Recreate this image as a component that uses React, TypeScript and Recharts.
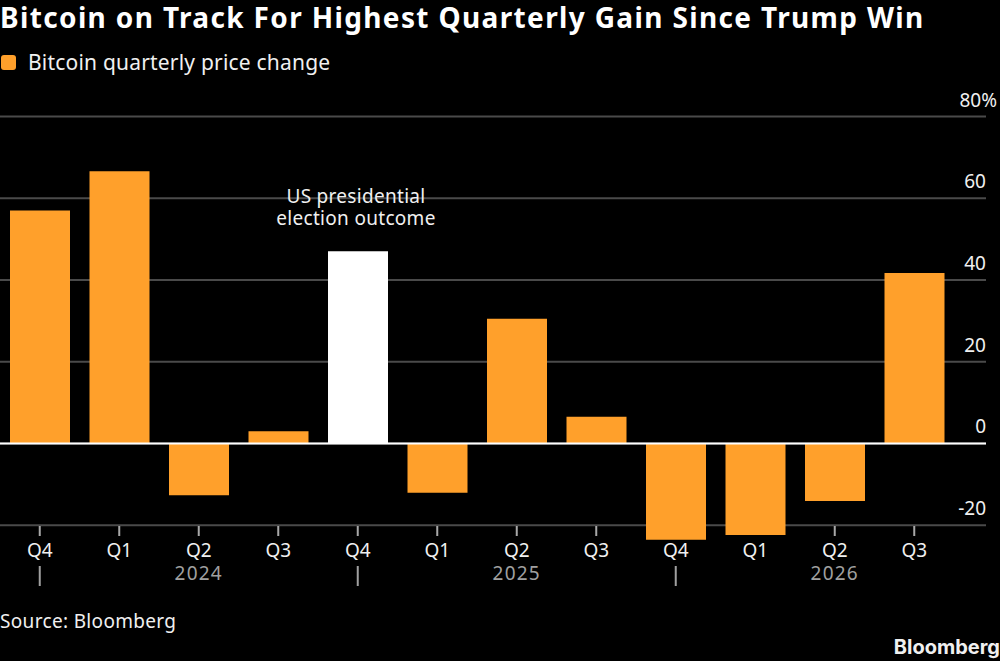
import { Bar, BarChart, CartesianGrid, Cell, LabelList, ReferenceLine, XAxis, YAxis } from "recharts";

const quarters = ["Q4", "Q1", "Q2", "Q3", "Q4", "Q1", "Q2", "Q3", "Q4", "Q1", "Q2", "Q3"];
const changes = [57, 66.6, -12.7, 3, 47, -12.1, 30.5, 6.5, -23.6, -22.4, -14.1, 41.7];
const yearLabels = ["", "", "2024", "", "", "", "2025", "", "", "", "2026", ""];
const yearDividers = [0, 4, 8];
const yTicks = [-20, 0, 20, 40, 60, 80];
const highlightIndex = 4;
const noteLines = ["US presidential", "election outcome"];

const rows = quarters.map((quarter, i) => ({ quarter, change: changes[i] }));

const FONT = "'Noto Sans', sans-serif";
const ORANGE = "#ffa02b";

function QuarterTick({ x, y, payload, index }: any) {
  const i = payload?.index ?? index;
  const axisY = y - 40;
  return (
    <g fontFamily={FONT}>
      {/* bars that reach past the axis hide their tick */}
      {changes[i] > -20 && (
        <line x1={x} x2={x} y1={axisY} y2={axisY + 10} stroke="#a8a8a8" strokeWidth={2} />
      )}
      <text x={x} y={axisY + 31} textAnchor="middle" fontSize={19} fill="#f0f0f0">
        {payload.value}
      </text>
      {yearLabels[i] && (
        <text x={x} y={axisY + 54} textAnchor="middle" fontSize={19} letterSpacing={1.2} fill="#a0a0a0">
          {yearLabels[i]}
        </text>
      )}
      {yearDividers.includes(i) && (
        <line x1={x} x2={x} y1={axisY + 40} y2={axisY + 60} stroke="#a0a0a0" strokeWidth={2} />
      )}
    </g>
  );
}

function ValueTick({ y, payload }: any) {
  const top = payload.value === 80;
  return (
    <text
      x={top ? 997 : 986}
      y={y - 10}
      textAnchor="end"
      fontFamily={FONT}
      fontSize={19}
      fill="#f0f0f0"
    >
      {top ? "80%" : payload.value}
    </text>
  );
}

function ElectionNote({ x, y, width, index }: any) {
  if (index !== highlightIndex) return null;
  const cx = x + width / 2 - 2;
  return (
    <text x={cx} textAnchor="middle" fontFamily={FONT} fontSize={19} letterSpacing={0.3} fill="#f0f0f0">
      {noteLines.map((line, i) => (
        <tspan key={line} x={cx} y={y - 48 + i * 22}>
          {line}
        </tspan>
      ))}
    </text>
  );
}

export default function App() {
  return (
    <div style={{ position: "absolute", left: 0, top: 0, width: 1000, height: 661, background: "#000", fontFamily: FONT, overflow: "hidden" }}>
      <div style={{ position: "absolute", left: 0, top: 1, fontSize: 28, lineHeight: "32px", fontWeight: 700, letterSpacing: 1.36, color: "#fff", whiteSpace: "nowrap" }}>
        Bitcoin on Track For Highest Quarterly Gain Since Trump Win
      </div>
      <div style={{ position: "absolute", left: 1, top: 55, width: 15, height: 15, borderRadius: 3, background: ORANGE }} />
      <div style={{ position: "absolute", left: 28, top: 48, fontSize: 21, letterSpacing: 0.2, color: "#f0f0f0", whiteSpace: "nowrap" }}>
        Bitcoin quarterly price change
      </div>
      <BarChart
        width={1000}
        height={661}
        data={rows}
        margin={{ top: 116.5, right: 13, bottom: 0, left: 0 }}
        barSize={60}
      >
        <CartesianGrid vertical={false} horizontalValues={yTicks} stroke="#4a4a4a" strokeWidth={2} />
        <XAxis
          dataKey="quarter"
          height={95}
          interval={0}
          axisLine={false}
          tickLine={false}
          tickSize={0}
          tickMargin={0}
          padding={{ left: 0, right: 32 }}
          tick={QuarterTick}
        />
        <YAxis
          orientation="right"
          width={1}
          domain={[-30, 80]}
          ticks={yTicks}
          axisLine={false}
          tickLine={false}
          tick={ValueTick}
        />
        <Bar dataKey="change" fill={ORANGE} isAnimationActive={false}>
          {rows.map((row, i) => (
            <Cell key={i} fill={i === highlightIndex ? "#ffffff" : ORANGE} />
          ))}
          <LabelList dataKey="change" content={ElectionNote} />
        </Bar>
        <ReferenceLine y={0} stroke="#ffffff" strokeWidth={2} />
      </BarChart>
      <div style={{ position: "absolute", left: 0, top: 608, fontSize: 19, letterSpacing: 0.33, color: "#f0f0f0", whiteSpace: "nowrap" }}>
        Source: Bloomberg
      </div>
      <div style={{ position: "absolute", right: 0, top: 635, fontFamily: "Inter, sans-serif", fontSize: 20, fontWeight: 700, color: "#f0f0f0", whiteSpace: "nowrap" }}>
        Bloomberg
      </div>
    </div>
  );
}
